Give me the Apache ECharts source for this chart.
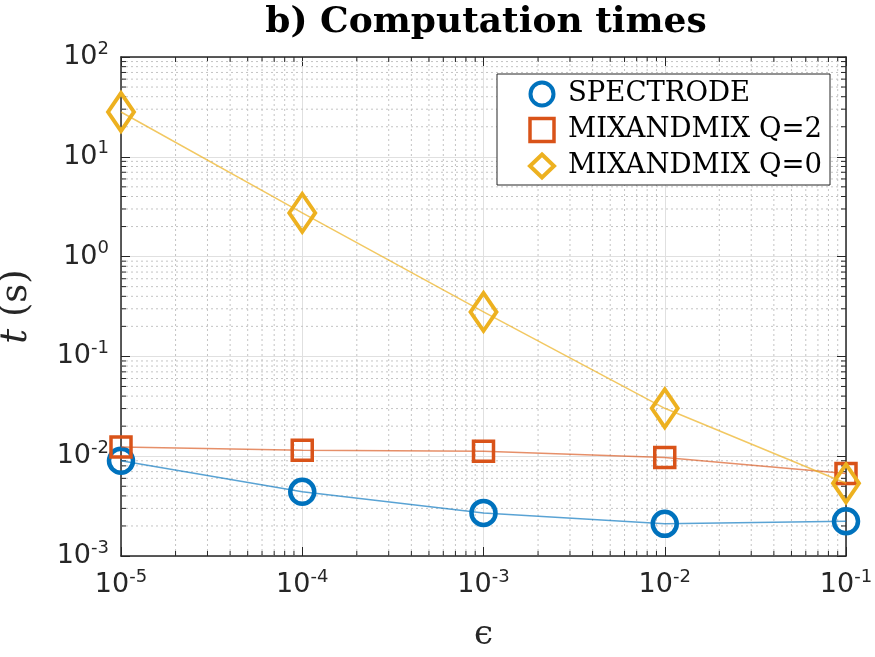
<!DOCTYPE html>
<html>
<head>
<meta charset="utf-8">
<script src="https://cdn.jsdelivr.net/npm/echarts@6/dist/echarts.min.js"></script>
<style>
  html, body { margin: 0; padding: 0; background: #fff; }
  #chart { width: 875px; height: 657px; }
</style>
</head>
<body>
<div id="chart"></div>
<script>
// tolerance values (x axis)
const epsilon = [1e-5, 1e-4, 1e-3, 1e-2, 1e-1];
// computation times in seconds
const spectrode = [0.0090, 0.0044, 0.0027, 0.0021, 0.00223];
const mixQ2 = [0.0124, 0.0115, 0.0112, 0.0097, 0.0067];
const mixQ0 = [28.1, 2.74, 0.279, 0.0302, 0.00535];
const seriesNames = ["SPECTRODE", "MIXANDMIX Q=2", "MIXANDMIX Q=0"];

const xRange = [1e-5, 1e-1];
const yRange = [1e-3, 1e2];

const blue = "#0072BD", orange = "#D95319", yellow = "#EDB120";
const textColor = "#262626";

// minor grid positions 2..9 x 10^k for a log range
function minorValues (range) {
  let out = [];
  let k0 = Math.round(Math.log10(range[0]));
  let k1 = Math.round(Math.log10(range[1]));
  for (let k = k0; k < k1; k++) {
    for (let m = 2; m <= 9; m++) out.push(m * Math.pow(10, k));
  }
  return out;
}

function pairs (ys) {
  return epsilon.map((x, i) => [x, ys[i]]);
}

function powLabel (v) {
  let e = Math.round(Math.log10(v));
  return "{b|10}{s|" + e + "}";
}

const tickRich = {
  b: { fontSize: 27, color: textColor, fontFamily: "DejaVu Sans" },
  s: { fontSize: 18, color: textColor, fontFamily: "DejaVu Sans", padding: [0, 0, 16, 0] }
};

const gridDot = { stroke: "#c4c4c4", lineWidth: 1, lineDash: [2, 3] };

const chart = echarts.init(document.getElementById("chart"));

const option = {
  animation: false,
  backgroundColor: "#fff",
  title: {
    text: "b) Computation times",
    left: 481,
    top: 0,
    textAlign: "center",
    textStyle: { fontFamily: "DejaVu Serif", fontWeight: "bold", fontSize: 36, color: "#000" }
  },
  grid: { left: 121, right: 29, top: 57, bottom: 101, containLabel: false, outerBoundsMode: "none" },
  legend: {
    orient: "vertical",
    left: 497,
    top: 74,
    backgroundColor: "#fff",
    borderColor: textColor,
    borderWidth: 1,
    borderRadius: 0,
    padding: [6, 8, 5, 31],
    itemGap: 8,
    itemWidth: 24,
    itemHeight: 23,
    textStyle: { fontFamily: "DejaVu Serif", fontSize: 27.5, lineHeight: 26, color: "#000", padding: [0, 0, 0, 9] },
    data: [
      { name: seriesNames[0], icon: "circle", itemStyle: { color: "#fff", borderColor: blue, borderWidth: 4 } },
      { name: seriesNames[1], icon: "rect", itemStyle: { color: "#fff", borderColor: orange, borderWidth: 3.5 } },
      { name: seriesNames[2], icon: "diamond", itemStyle: { color: "#fff", borderColor: yellow, borderWidth: 4 } }
    ]
  },
  xAxis: [
    {
      type: "log",
      logBase: 10,
      min: xRange[0],
      max: xRange[1],
      name: "ϵ",
      nameLocation: "middle",
      nameGap: 62,
      nameTextStyle: { fontFamily: "DejaVu Serif", fontSize: 34, color: textColor },
      axisLine: { show: true, onZero: false, lineStyle: { color: textColor, width: 1.5 } },
      axisTick: { show: true, inside: true, length: 9, lineStyle: { color: textColor } },
      axisLabel: { formatter: powLabel, rich: tickRich, fontSize: 27, margin: 12 },
      splitLine: { show: true, lineStyle: { color: "#e0e0e0", width: 1 } }
    },
    {
      type: "log",
      logBase: 10,
      min: xRange[0],
      max: xRange[1],
      position: "top",
      axisLine: { show: true, onZero: false, lineStyle: { color: textColor, width: 1.5 } },
      axisTick: { show: true, inside: true, length: 9, lineStyle: { color: textColor } },
      axisLabel: { show: false },
      splitLine: { show: false }
    }
  ],
  yAxis: [
    {
      type: "log",
      logBase: 10,
      min: yRange[0],
      max: yRange[1],
      name: "{i|t}{n| (s)}",
      nameLocation: "middle",
      nameGap: 86,
      nameRotate: 90,
      nameTextStyle: {
        rich: {
          i: { fontFamily: "DejaVu Serif", fontStyle: "italic", fontSize: 37, color: textColor },
          n: { fontFamily: "DejaVu Serif", fontSize: 37, color: textColor }
        }
      },
      axisLine: { show: true, onZero: false, lineStyle: { color: textColor, width: 1.5 } },
      axisTick: { show: true, inside: true, length: 9, lineStyle: { color: textColor } },
      axisLabel: { formatter: powLabel, rich: tickRich, fontSize: 27, margin: 12 },
      splitLine: { show: true, lineStyle: { color: "#e0e0e0", width: 1 } }
    },
    {
      type: "log",
      logBase: 10,
      min: yRange[0],
      max: yRange[1],
      position: "right",
      axisLine: { show: true, onZero: false, lineStyle: { color: textColor, width: 1.5 } },
      axisTick: { show: true, inside: true, length: 9, lineStyle: { color: textColor } },
      axisLabel: { show: false },
      splitLine: { show: false }
    }
  ],
  series: [
    {
      // vertical minor grid + short minor ticks on bottom/top
      type: "custom",
      silent: true,
      z: 1,
      data: minorValues(xRange).map(v => [v, yRange[0]]),
      renderItem: function (params, api) {
        let p0 = api.coord([api.value(0), yRange[0]]);
        let p1 = api.coord([api.value(0), yRange[1]]);
        return {
          type: "group",
          children: [
            { type: "line", shape: { x1: p0[0], y1: p0[1], x2: p1[0], y2: p1[1] }, style: gridDot },
            { type: "line", shape: { x1: p0[0], y1: p0[1], x2: p0[0], y2: p0[1] - 5 }, style: { stroke: textColor, lineWidth: 1 } },
            { type: "line", shape: { x1: p1[0], y1: p1[1], x2: p1[0], y2: p1[1] + 5 }, style: { stroke: textColor, lineWidth: 1 } }
          ]
        };
      }
    },
    {
      // horizontal minor grid + short minor ticks on left/right
      type: "custom",
      silent: true,
      z: 1,
      data: minorValues(yRange).map(v => [xRange[0], v]),
      renderItem: function (params, api) {
        let p0 = api.coord([xRange[0], api.value(1)]);
        let p1 = api.coord([xRange[1], api.value(1)]);
        return {
          type: "group",
          children: [
            { type: "line", shape: { x1: p0[0], y1: p0[1], x2: p1[0], y2: p1[1] }, style: gridDot },
            { type: "line", shape: { x1: p0[0], y1: p0[1], x2: p0[0] + 5, y2: p0[1] }, style: { stroke: textColor, lineWidth: 1 } },
            { type: "line", shape: { x1: p1[0], y1: p1[1], x2: p1[0] - 5, y2: p1[1] }, style: { stroke: textColor, lineWidth: 1 } }
          ]
        };
      }
    },
    {
      name: seriesNames[0],
      type: "line",
      data: pairs(spectrode),
      symbol: "circle",
      symbolSize: 24,
      lineStyle: { color: blue, width: 1.5, opacity: 0.65 },
      itemStyle: { color: "rgba(255,255,255,0)", borderColor: blue, borderWidth: 4.5 },
      z: 3
    },
    {
      name: seriesNames[1],
      type: "line",
      data: pairs(mixQ2),
      symbol: "rect",
      symbolSize: 20,
      lineStyle: { color: orange, width: 1.5, opacity: 0.65 },
      itemStyle: { color: "rgba(255,255,255,0)", borderColor: orange, borderWidth: 3.5 },
      z: 4
    },
    {
      name: seriesNames[2],
      type: "line",
      data: pairs(mixQ0),
      symbol: "diamond",
      symbolSize: [26, 38],
      lineStyle: { color: yellow, width: 1.5, opacity: 0.7 },
      itemStyle: { color: "rgba(255,255,255,0)", borderColor: yellow, borderWidth: 4 },
      z: 5
    }
  ]
};

chart.setOption(option);
</script>
</body>
</html>
